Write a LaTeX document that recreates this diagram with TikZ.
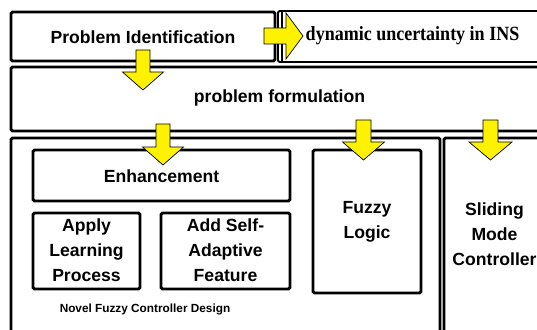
\documentclass[tikz,border=0pt]{standalone}
\usepackage{fontspec}
\setmainfont{Liberation Sans}
\newfontfamily\serifb{Liberation Serif}
\begin{document}
\begin{tikzpicture}[x=1pt,y=-1pt,
  box/.style={draw=black,line width=2.9pt,rounded corners=1.5pt},
  thinbox/.style={draw=black,line width=1.8pt,rounded corners=1.5pt},
  arr/.style={draw=black,line width=0.7pt,fill=yellow,line join=miter},
  lbl/.style={font=\fontsize{17.6}{25}\selectfont\bfseries,align=center,inner sep=0pt},
  small/.style={font=\fontsize{11.8}{14}\selectfont\bfseries,align=center,inner sep=0pt}]
\newcommand\yarrowdown[6]{%
  \draw[arr] (#1-#2,#4) -- (#1+#2,#4) -- (#1+#2,#5) -- (#1+#3,#5) -- (#1,#6)
    -- (#1-#3,#5) -- (#1-#2,#5) -- cycle;}
\useasboundingbox (0,0) rectangle (537,329);
\clip (0,0) rectangle (537,329);
% boxes
\draw[box] (11,12) rectangle (275,61);
\node[lbl] (pi) at (143,37) {Problem Identification};
\draw[thinbox] (278,11) rectangle (560,62);
\draw[thinbox] (282,11) -- (282,62);
\node[lbl,font=\fontsize{18}{22}\serifb\bfseries] (du) at (412.5,36) {\scalebox{1}[1.12]{dynamic uncertainty in INS}};
\draw[box] (11,67) rectangle (560,131);
\node[lbl] (pf) at (279.5,98) {problem formulation};
\draw[box] (11,138) rectangle (440,360);
\draw[box] (444,138) rectangle (560,360);
\draw[box] (33,150) rectangle (290,201);
\node[lbl] (en) at (161.5,176) {Enhancement};
\draw[box] (33,213) rectangle (140,289);
\node[lbl] (al) at (86.5,250) {Apply\\Learning\\Process};
\draw[box] (161,213) rectangle (290,289);
\node[lbl] (as) at (225.5,250) {Add Self-\\Adaptive\\Feature};
\draw[box] (313,150) rectangle (421,293);
\node[lbl] (fl) at (367,221.5) {Fuzzy\\Logic};
\node[lbl] (sm) at (494.5,234.5) {Sliding\\Mode\\Controller};
\node[small] (nf) at (145,309) {Novel Fuzzy Controller Design};
% arrows
\yarrowdown{143}{7}{20.5}{50}{72}{90}
\yarrowdown{163}{7}{20.5}{124}{147}{165}
\yarrowdown{363.5}{7.5}{21}{120}{142}{160}
\yarrowdown{490.5}{7.5}{21.5}{120}{142}{160}
\draw[arr] (264,28) -- (286,28) -- (286,13) -- (303,36) -- (286,59) -- (286,44) -- (264,44) -- cycle;
\end{tikzpicture}
\end{document}
